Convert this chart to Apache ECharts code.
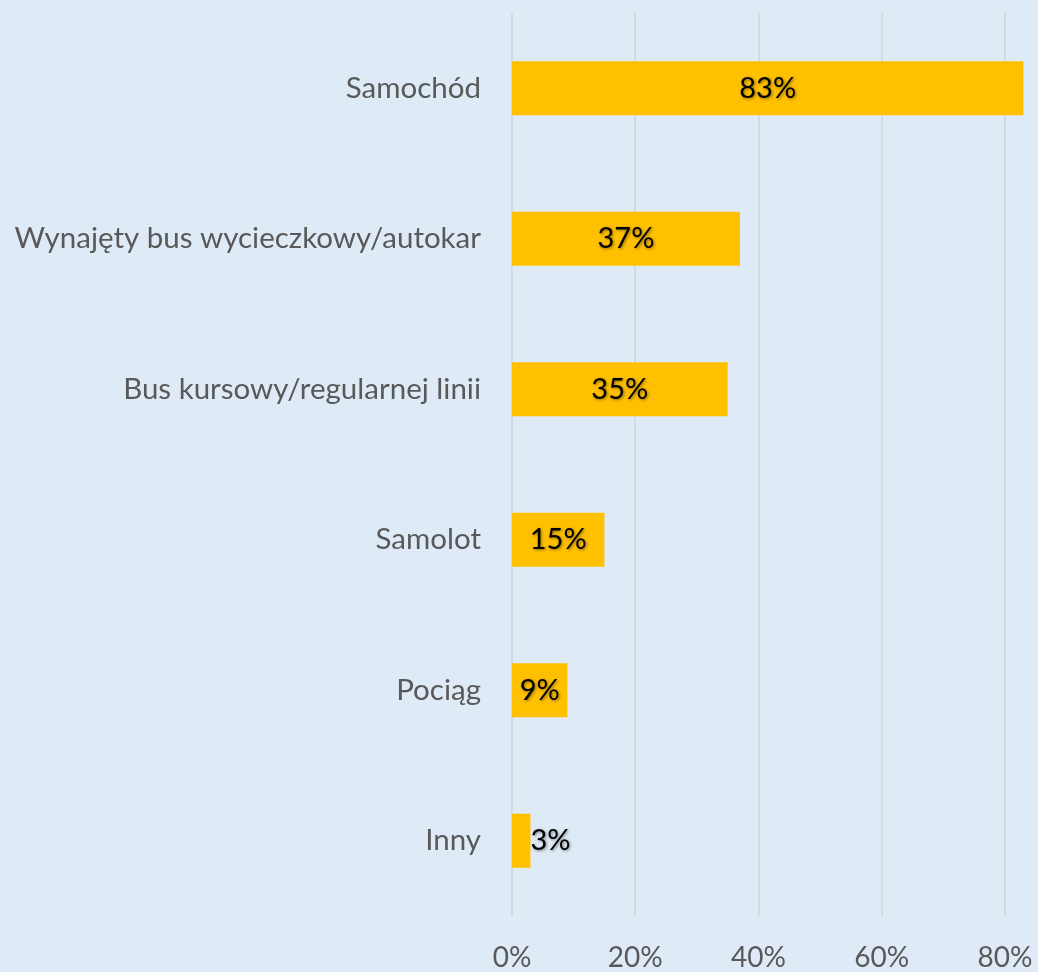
<!DOCTYPE html>
<html>
<head>
<meta charset="utf-8">
<style>
  html, body { margin: 0; padding: 0; background: #DEEBF7; }
  #chart { width: 1038px; height: 972px; }
</style>
<script src="https://cdn.jsdelivr.net/npm/echarts@6/dist/echarts.min.js"></script>
</head>
<body>
<div id="chart"></div>
<script>
// dane z wykresu
var categories = ['Samochód', 'Wynajęty bus wycieczkowy/autokar', 'Bus kursowy/regularnej linii', 'Samolot', 'Pociąg', 'Inny'];
var values = [83, 37, 35, 15, 9, 3];
var tickStep = 20;

var chart = echarts.init(document.getElementById('chart'));

var seriesData = values.map(function (v) {
  var item = { value: v };
  if (v < 5) {
    // za krótki słupek - etykieta obok
    item.label = { position: 'right', distance: 0 };
  }
  return item;
});

var option = {
  backgroundColor: '#DEEBF7',
  textStyle: { fontFamily: 'Lato' },
  grid: {
    left: 512,
    right: -10,
    top: 13,
    bottom: 56,
    outerBoundsMode: 'none'
  },
  xAxis: {
    type: 'value',
    min: 0,
    max: 87,
    interval: tickStep,
    axisLine: { show: false },
    axisTick: { show: false },
    axisLabel: {
      color: '#595959',
      fontSize: 28,
      margin: 28,
      showMaxLabel: false,
      formatter: '{value}%'
    },
    splitLine: {
      lineStyle: { color: '#D6D9DD', width: 2 }
    }
  },
  yAxis: {
    type: 'category',
    inverse: true,
    data: categories,
    axisLine: { show: false },
    axisTick: { show: false },
    axisLabel: {
      color: '#595959',
      fontSize: 29.5,
      margin: 31
    }
  },
  series: [
    {
      type: 'bar',
      data: seriesData,
      barWidth: 54,
      itemStyle: { color: '#FFC000' },
      label: {
        show: true,
        position: 'inside',
        formatter: '{c}%',
        color: '#000',
        fontSize: 29,
        textShadowColor: 'rgba(0,0,0,0.45)',
        textShadowBlur: 3,
        textShadowOffsetX: 1,
        textShadowOffsetY: 1
      },
      silent: true
    }
  ]
};

chart.setOption(option);
</script>
</body>
</html>
